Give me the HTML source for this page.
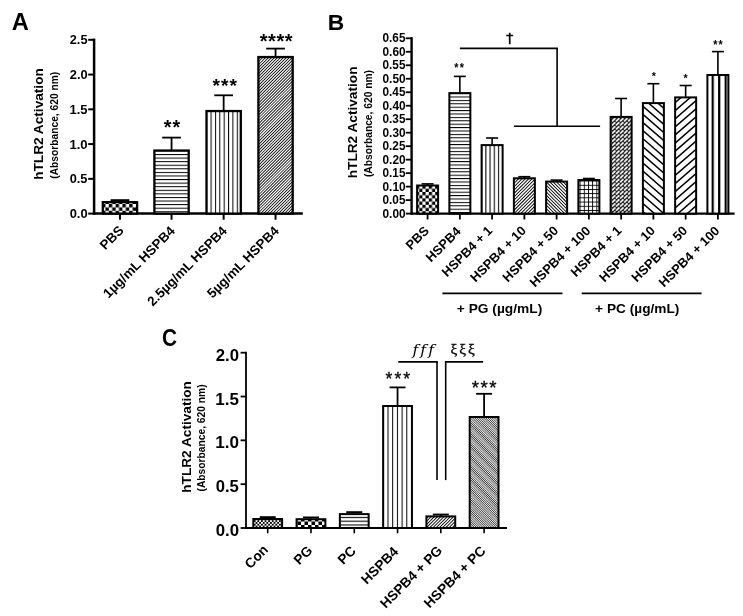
<!DOCTYPE html><html><head><meta charset="utf-8"><style>html,body{margin:0;padding:0;background:#fff;}svg{display:block}</style></head><body>
<svg width="743" height="616" viewBox="0 0 743 616">
<rect width="743" height="616" fill="#fff"/>
<defs>
<pattern id="chkA" patternUnits="userSpaceOnUse" width="6.8" height="6.8"><rect width="6.8" height="6.8" fill="#fff"/><rect width="3.4" height="3.4" fill="#000"/><rect x="3.4" y="3.4" width="3.4" height="3.4" fill="#000"/></pattern>
<pattern id="hlA" patternUnits="userSpaceOnUse" y="0.06" width="10" height="3.58"><rect width="10" height="3.58" fill="#fff"/><rect y="0" width="10" height="1.0" fill="#000"/></pattern>
<pattern id="vlA" patternUnits="userSpaceOnUse" x="0.8" width="4.37" height="10"><rect width="4.37" height="10" fill="#fff"/><rect x="0" width="1.0" height="10" fill="#000"/></pattern>
<pattern id="dfA" patternUnits="userSpaceOnUse" width="2.1" height="2.1" patternTransform="rotate(45)"><rect width="2.1" height="2.1" fill="#fff"/><rect x="0" width="0.9" height="2.1" fill="#000"/></pattern>
<pattern id="chkB" patternUnits="userSpaceOnUse" width="6.4" height="6.4"><rect width="6.4" height="6.4" fill="#fff"/><rect width="3.2" height="3.2" fill="#000"/><rect x="3.2" y="3.2" width="3.2" height="3.2" fill="#000"/></pattern>
<pattern id="hlB" patternUnits="userSpaceOnUse" y="1.3" width="10" height="3.4"><rect width="10" height="3.4" fill="#fff"/><rect y="0" width="10" height="1.0" fill="#000"/></pattern>
<pattern id="vlB" patternUnits="userSpaceOnUse" x="1.63" width="4.17" height="10"><rect width="4.17" height="10" fill="#fff"/><rect x="0" width="1.1" height="10" fill="#000"/></pattern>
<pattern id="dfB" patternUnits="userSpaceOnUse" width="2.35" height="2.35" patternTransform="rotate(45)"><rect width="2.35" height="2.35" fill="#fff"/><rect x="0" width="1.0" height="2.35" fill="#000"/></pattern>
<pattern id="dbB" patternUnits="userSpaceOnUse" width="2.35" height="2.35" patternTransform="rotate(-45)"><rect width="2.35" height="2.35" fill="#fff"/><rect x="0" width="1.0" height="2.35" fill="#000"/></pattern>
<pattern id="grB" patternUnits="userSpaceOnUse" width="4.2" height="4.2"><rect width="4.2" height="4.2" fill="#fff"/><rect width="0.9" height="4.2" fill="#000"/><rect width="4.2" height="0.9" fill="#000"/></pattern>
<pattern id="xhB" patternUnits="userSpaceOnUse" x="2.6" width="4.06" height="4.06"><rect width="4.06" height="4.06" fill="#1a1a1a"/><line x1="0.3" y1="3.76" x2="3.76" y2="0.3" stroke="#fff" stroke-width="1.6"/></pattern>
<pattern id="dbB2" patternUnits="userSpaceOnUse" width="6.1" height="6.1" patternTransform="rotate(-49)"><rect width="6.1" height="6.1" fill="#fff"/><rect x="0" width="1.5" height="6.1" fill="#000"/></pattern>
<pattern id="dfB2" patternUnits="userSpaceOnUse" width="6.1" height="6.1" patternTransform="rotate(49)"><rect width="6.1" height="6.1" fill="#fff"/><rect x="0" width="1.5" height="6.1" fill="#000"/></pattern>
<pattern id="vlB2" patternUnits="userSpaceOnUse" x="3.1" width="6.5" height="10"><rect width="6.5" height="10" fill="#fff"/><rect x="0" width="2.2" height="10" fill="#000"/></pattern>
<pattern id="xhC" patternUnits="userSpaceOnUse" width="3.6" height="3.6"><rect width="3.6" height="3.6" fill="#fff"/><rect width="1.8" height="1.8" fill="#000"/><rect x="1.8" y="1.8" width="1.8" height="1.8" fill="#000"/></pattern>
<pattern id="chkC" patternUnits="userSpaceOnUse" width="7.0" height="7.0"><rect width="7.0" height="7.0" fill="#fff"/><rect width="3.5" height="3.5" fill="#000"/><rect x="3.5" y="3.5" width="3.5" height="3.5" fill="#000"/></pattern>
<pattern id="hlC" patternUnits="userSpaceOnUse" y="0.05" width="10" height="3.8"><rect width="10" height="3.8" fill="#fff"/><rect y="0" width="10" height="1.1" fill="#000"/></pattern>
<pattern id="vlC" patternUnits="userSpaceOnUse" x="2.1" width="4.7" height="10"><rect width="4.7" height="10" fill="#fff"/><rect x="0" width="1.0" height="10" fill="#000"/></pattern>
<pattern id="dfC" patternUnits="userSpaceOnUse" width="2.26" height="2.26" patternTransform="rotate(45)"><rect width="2.26" height="2.26" fill="#fff"/><rect x="0" width="1.0" height="2.26" fill="#000"/></pattern>
<pattern id="dbC" patternUnits="userSpaceOnUse" width="1.56" height="1.56" patternTransform="rotate(-45)"><rect width="1.56" height="1.56" fill="#fff"/><rect x="0" width="0.72" height="1.56" fill="#000"/></pattern>
</defs>
<text transform="translate(11.87,29.76)" font-size="23.65" font-family='"Liberation Sans", Arial, sans-serif' font-weight="bold" font-style="normal">A</text>
<line x1="94.10" y1="38.60" x2="94.10" y2="214.80" stroke="#000" stroke-width="2.5"/>
<line x1="92.90" y1="213.60" x2="302.80" y2="213.60" stroke="#000" stroke-width="2.5"/>
<line x1="88.20" y1="213.60" x2="94.10" y2="213.60" stroke="#000" stroke-width="2.0"/>
<text transform="translate(69.68,218.25) scale(0.9592,1)" font-size="13.48" font-family='"Liberation Sans", Arial, sans-serif' font-weight="bold" font-style="normal">0.0</text>
<line x1="88.20" y1="178.84" x2="94.10" y2="178.84" stroke="#000" stroke-width="2.0"/>
<text transform="translate(69.69,183.49) scale(0.9501,1)" font-size="13.48" font-family='"Liberation Sans", Arial, sans-serif' font-weight="bold" font-style="normal">0.5</text>
<line x1="88.20" y1="144.08" x2="94.10" y2="144.08" stroke="#000" stroke-width="2.0"/>
<text transform="translate(69.38,148.73) scale(0.9760,1)" font-size="13.48" font-family='"Liberation Sans", Arial, sans-serif' font-weight="bold" font-style="normal">1.0</text>
<line x1="88.20" y1="109.32" x2="94.10" y2="109.32" stroke="#000" stroke-width="2.0"/>
<text transform="translate(69.39,113.97) scale(0.9529,1)" font-size="13.67" font-family='"Liberation Sans", Arial, sans-serif' font-weight="bold" font-style="normal">1.5</text>
<line x1="88.20" y1="74.56" x2="94.10" y2="74.56" stroke="#000" stroke-width="2.0"/>
<text transform="translate(69.75,79.21) scale(0.9555,1)" font-size="13.48" font-family='"Liberation Sans", Arial, sans-serif' font-weight="bold" font-style="normal">2.0</text>
<line x1="88.20" y1="39.80" x2="94.10" y2="39.80" stroke="#000" stroke-width="2.0"/>
<text transform="translate(69.75,44.45) scale(0.9465,1)" font-size="13.48" font-family='"Liberation Sans", Arial, sans-serif' font-weight="bold" font-style="normal">2.5</text>
<text transform="translate(43.00,179.86) rotate(-90) scale(1.0414,1)" font-size="13.11" font-family='"Liberation Sans", Arial, sans-serif' font-weight="bold" font-style="normal">hTLR2 Activation</text>
<text transform="translate(57.66,178.71) rotate(-90) scale(0.9824,1)" font-size="10.43" font-family='"Liberation Sans", Arial, sans-serif' font-weight="bold" font-style="normal">(Absorbance, 620 nm)</text>
<line x1="119.95" y1="200.10" x2="119.95" y2="201.50" stroke="#000" stroke-width="1.8"/>
<line x1="110.60" y1="200.10" x2="129.30" y2="200.10" stroke="#000" stroke-width="1.8"/>
<rect x="102.80" y="202.15" width="34.30" height="11.45" fill="url(#chkA)" stroke="#000" stroke-width="2.3"/>
<line x1="119.95" y1="213.60" x2="119.95" y2="219.70" stroke="#000" stroke-width="2.0"/>
<line x1="171.55" y1="137.60" x2="171.55" y2="149.90" stroke="#000" stroke-width="1.8"/>
<line x1="162.20" y1="137.60" x2="180.90" y2="137.60" stroke="#000" stroke-width="1.8"/>
<rect x="154.40" y="150.55" width="34.30" height="63.05" fill="url(#hlA)" stroke="#000" stroke-width="2.3"/>
<line x1="171.55" y1="213.60" x2="171.55" y2="219.70" stroke="#000" stroke-width="2.0"/>
<line x1="223.65" y1="95.30" x2="223.65" y2="110.40" stroke="#000" stroke-width="1.8"/>
<line x1="214.30" y1="95.30" x2="233.00" y2="95.30" stroke="#000" stroke-width="1.8"/>
<rect x="206.50" y="111.05" width="34.30" height="102.55" fill="url(#vlA)" stroke="#000" stroke-width="2.3"/>
<line x1="223.65" y1="213.60" x2="223.65" y2="219.70" stroke="#000" stroke-width="2.0"/>
<line x1="275.55" y1="48.60" x2="275.55" y2="56.40" stroke="#000" stroke-width="1.8"/>
<line x1="266.20" y1="48.60" x2="284.90" y2="48.60" stroke="#000" stroke-width="1.8"/>
<clipPath id="c1"><rect x="258.40" y="57.05" width="34.30" height="156.55"/></clipPath>
<g clip-path="url(#c1)"><rect x="258.40" y="57.05" width="34.30" height="156.55" fill="#fff"/><path d="M256.40 54.40L294.70 16.10L294.70 17.29L256.40 55.59ZM256.40 57.36L294.70 19.06L294.70 20.25L256.40 58.55ZM256.40 60.32L294.70 22.02L294.70 23.21L256.40 61.51ZM256.40 63.28L294.70 24.98L294.70 26.17L256.40 64.47ZM256.40 66.24L294.70 27.94L294.70 29.13L256.40 67.43ZM256.40 69.20L294.70 30.90L294.70 32.09L256.40 70.39ZM256.40 72.16L294.70 33.86L294.70 35.05L256.40 73.35ZM256.40 75.12L294.70 36.82L294.70 38.01L256.40 76.31ZM256.40 78.08L294.70 39.78L294.70 40.97L256.40 79.27ZM256.40 81.04L294.70 42.74L294.70 43.93L256.40 82.23ZM256.40 84.00L294.70 45.70L294.70 46.89L256.40 85.19ZM256.40 86.96L294.70 48.66L294.70 49.85L256.40 88.15ZM256.40 89.92L294.70 51.62L294.70 52.81L256.40 91.11ZM256.40 92.88L294.70 54.58L294.70 55.77L256.40 94.07ZM256.40 95.84L294.70 57.54L294.70 58.73L256.40 97.03ZM256.40 98.80L294.70 60.50L294.70 61.69L256.40 99.99ZM256.40 101.76L294.70 63.46L294.70 64.65L256.40 102.95ZM256.40 104.72L294.70 66.42L294.70 67.61L256.40 105.91ZM256.40 107.68L294.70 69.38L294.70 70.57L256.40 108.87ZM256.40 110.64L294.70 72.34L294.70 73.53L256.40 111.83ZM256.40 113.60L294.70 75.30L294.70 76.49L256.40 114.79ZM256.40 116.56L294.70 78.26L294.70 79.45L256.40 117.75ZM256.40 119.52L294.70 81.22L294.70 82.41L256.40 120.71ZM256.40 122.48L294.70 84.18L294.70 85.37L256.40 123.67ZM256.40 125.44L294.70 87.14L294.70 88.33L256.40 126.63ZM256.40 128.40L294.70 90.10L294.70 91.29L256.40 129.59ZM256.40 131.36L294.70 93.06L294.70 94.25L256.40 132.55ZM256.40 134.32L294.70 96.02L294.70 97.21L256.40 135.51ZM256.40 137.28L294.70 98.98L294.70 100.17L256.40 138.47ZM256.40 140.24L294.70 101.94L294.70 103.13L256.40 141.43ZM256.40 143.20L294.70 104.90L294.70 106.09L256.40 144.39ZM256.40 146.16L294.70 107.86L294.70 109.05L256.40 147.35ZM256.40 149.12L294.70 110.82L294.70 112.01L256.40 150.31ZM256.40 152.08L294.70 113.78L294.70 114.97L256.40 153.27ZM256.40 155.04L294.70 116.74L294.70 117.93L256.40 156.23ZM256.40 158.00L294.70 119.70L294.70 120.89L256.40 159.19ZM256.40 160.96L294.70 122.66L294.70 123.85L256.40 162.15ZM256.40 163.92L294.70 125.62L294.70 126.81L256.40 165.11ZM256.40 166.88L294.70 128.58L294.70 129.77L256.40 168.07ZM256.40 169.84L294.70 131.54L294.70 132.73L256.40 171.03ZM256.40 172.80L294.70 134.50L294.70 135.69L256.40 173.99ZM256.40 175.76L294.70 137.46L294.70 138.65L256.40 176.95ZM256.40 178.72L294.70 140.42L294.70 141.61L256.40 179.91ZM256.40 181.68L294.70 143.38L294.70 144.57L256.40 182.87ZM256.40 184.64L294.70 146.34L294.70 147.53L256.40 185.83ZM256.40 187.60L294.70 149.30L294.70 150.49L256.40 188.79ZM256.40 190.56L294.70 152.26L294.70 153.45L256.40 191.75ZM256.40 193.52L294.70 155.22L294.70 156.41L256.40 194.71ZM256.40 196.48L294.70 158.18L294.70 159.37L256.40 197.67ZM256.40 199.44L294.70 161.14L294.70 162.33L256.40 200.63ZM256.40 202.40L294.70 164.10L294.70 165.29L256.40 203.59ZM256.40 205.36L294.70 167.06L294.70 168.25L256.40 206.55ZM256.40 208.32L294.70 170.02L294.70 171.21L256.40 209.51ZM256.40 211.28L294.70 172.98L294.70 174.17L256.40 212.47ZM256.40 214.24L294.70 175.94L294.70 177.13L256.40 215.43ZM256.40 217.20L294.70 178.90L294.70 180.09L256.40 218.39ZM256.40 220.16L294.70 181.86L294.70 183.05L256.40 221.35ZM256.40 223.12L294.70 184.82L294.70 186.01L256.40 224.31ZM256.40 226.08L294.70 187.78L294.70 188.97L256.40 227.27ZM256.40 229.04L294.70 190.74L294.70 191.93L256.40 230.23ZM256.40 232.00L294.70 193.70L294.70 194.89L256.40 233.19ZM256.40 234.96L294.70 196.66L294.70 197.85L256.40 236.15ZM256.40 237.92L294.70 199.62L294.70 200.81L256.40 239.11ZM256.40 240.88L294.70 202.58L294.70 203.77L256.40 242.07ZM256.40 243.84L294.70 205.54L294.70 206.73L256.40 245.03ZM256.40 246.80L294.70 208.50L294.70 209.69L256.40 247.99ZM256.40 249.76L294.70 211.46L294.70 212.65L256.40 250.95ZM256.40 252.72L294.70 214.42L294.70 215.61L256.40 253.91ZM256.40 255.68L294.70 217.38L294.70 218.57L256.40 256.87Z" fill="#000"/></g>
<rect x="258.40" y="57.05" width="34.30" height="156.55" fill="none" stroke="#000" stroke-width="2.3"/>
<line x1="275.55" y1="213.60" x2="275.55" y2="219.70" stroke="#000" stroke-width="2.0"/>
<text x="0" y="0" transform="translate(163.85,133.56) scale(1.000,1)" font-size="19.73" font-family='"Liberation Sans", Arial, sans-serif' font-weight="bold" font-style="normal" letter-spacing="0.97">**</text>
<text x="0" y="0" transform="translate(212.55,92.39) scale(1.000,1)" font-size="19.19" font-family='"Liberation Sans", Arial, sans-serif' font-weight="bold" font-style="normal" letter-spacing="1.06">***</text>
<text x="0" y="0" transform="translate(259.75,48.15) scale(1.000,1)" font-size="20.00" font-family='"Liberation Sans", Arial, sans-serif' font-weight="bold" font-style="normal" letter-spacing="0.57">****</text>
<text transform="translate(105.24,250.52) rotate(-45)" font-size="13.33" font-family='"Liberation Sans", Arial, sans-serif' font-weight="bold">PBS</text>
<text transform="translate(108.62,298.84) rotate(-45)" font-size="13.33" font-family='"Liberation Sans", Arial, sans-serif' font-weight="bold">1µg/mL HSPB4</text>
<text transform="translate(152.87,306.69) rotate(-45)" font-size="13.33" font-family='"Liberation Sans", Arial, sans-serif' font-weight="bold">2.5µg/mL HSPB4</text>
<text transform="translate(212.62,298.84) rotate(-45)" font-size="13.33" font-family='"Liberation Sans", Arial, sans-serif' font-weight="bold">5µg/mL HSPB4</text>
<text transform="translate(327.75,30.06)" font-size="22.77" font-family='"Liberation Sans", Arial, sans-serif' font-weight="bold" font-style="normal">B</text>
<line x1="411.60" y1="37.10" x2="411.60" y2="214.70" stroke="#000" stroke-width="2.4"/>
<line x1="410.50" y1="213.60" x2="734.60" y2="213.60" stroke="#000" stroke-width="2.2"/>
<line x1="405.80" y1="213.60" x2="411.60" y2="213.60" stroke="#000" stroke-width="1.8"/>
<text transform="translate(382.53,217.76) scale(0.9842,1)" font-size="12.06" font-family='"Liberation Sans", Arial, sans-serif' font-weight="bold" font-style="normal">0.00</text>
<line x1="405.80" y1="200.12" x2="411.60" y2="200.12" stroke="#000" stroke-width="1.8"/>
<text transform="translate(382.53,204.27) scale(0.9776,1)" font-size="12.06" font-family='"Liberation Sans", Arial, sans-serif' font-weight="bold" font-style="normal">0.05</text>
<line x1="405.80" y1="186.63" x2="411.60" y2="186.63" stroke="#000" stroke-width="1.8"/>
<text transform="translate(382.53,190.79) scale(0.9842,1)" font-size="12.06" font-family='"Liberation Sans", Arial, sans-serif' font-weight="bold" font-style="normal">0.10</text>
<line x1="405.80" y1="173.15" x2="411.60" y2="173.15" stroke="#000" stroke-width="1.8"/>
<text transform="translate(382.53,177.31) scale(0.9776,1)" font-size="12.06" font-family='"Liberation Sans", Arial, sans-serif' font-weight="bold" font-style="normal">0.15</text>
<line x1="405.80" y1="159.66" x2="411.60" y2="159.66" stroke="#000" stroke-width="1.8"/>
<text transform="translate(382.53,163.82) scale(0.9842,1)" font-size="12.06" font-family='"Liberation Sans", Arial, sans-serif' font-weight="bold" font-style="normal">0.20</text>
<line x1="405.80" y1="146.18" x2="411.60" y2="146.18" stroke="#000" stroke-width="1.8"/>
<text transform="translate(382.53,150.34) scale(0.9776,1)" font-size="12.06" font-family='"Liberation Sans", Arial, sans-serif' font-weight="bold" font-style="normal">0.25</text>
<line x1="405.80" y1="132.69" x2="411.60" y2="132.69" stroke="#000" stroke-width="1.8"/>
<text transform="translate(382.53,136.82) scale(0.9877,1)" font-size="12.01" font-family='"Liberation Sans", Arial, sans-serif' font-weight="bold" font-style="normal">0.30</text>
<line x1="405.80" y1="119.21" x2="411.60" y2="119.21" stroke="#000" stroke-width="1.8"/>
<text transform="translate(382.53,123.34) scale(0.9811,1)" font-size="12.01" font-family='"Liberation Sans", Arial, sans-serif' font-weight="bold" font-style="normal">0.35</text>
<line x1="405.80" y1="105.72" x2="411.60" y2="105.72" stroke="#000" stroke-width="1.8"/>
<text transform="translate(382.53,109.88) scale(0.9842,1)" font-size="12.06" font-family='"Liberation Sans", Arial, sans-serif' font-weight="bold" font-style="normal">0.40</text>
<line x1="405.80" y1="92.24" x2="411.60" y2="92.24" stroke="#000" stroke-width="1.8"/>
<text transform="translate(382.53,96.40) scale(0.9776,1)" font-size="12.06" font-family='"Liberation Sans", Arial, sans-serif' font-weight="bold" font-style="normal">0.45</text>
<line x1="405.80" y1="78.75" x2="411.60" y2="78.75" stroke="#000" stroke-width="1.8"/>
<text transform="translate(382.53,82.91) scale(0.9842,1)" font-size="12.06" font-family='"Liberation Sans", Arial, sans-serif' font-weight="bold" font-style="normal">0.50</text>
<line x1="405.80" y1="65.27" x2="411.60" y2="65.27" stroke="#000" stroke-width="1.8"/>
<text transform="translate(382.53,69.43) scale(0.9776,1)" font-size="12.06" font-family='"Liberation Sans", Arial, sans-serif' font-weight="bold" font-style="normal">0.55</text>
<line x1="405.80" y1="51.78" x2="411.60" y2="51.78" stroke="#000" stroke-width="1.8"/>
<text transform="translate(382.53,55.94) scale(0.9842,1)" font-size="12.06" font-family='"Liberation Sans", Arial, sans-serif' font-weight="bold" font-style="normal">0.60</text>
<line x1="405.80" y1="38.30" x2="411.60" y2="38.30" stroke="#000" stroke-width="1.8"/>
<text transform="translate(382.53,42.46) scale(0.9776,1)" font-size="12.06" font-family='"Liberation Sans", Arial, sans-serif' font-weight="bold" font-style="normal">0.65</text>
<text transform="translate(356.90,178.26) rotate(-90) scale(1.0325,1)" font-size="13.24" font-family='"Liberation Sans", Arial, sans-serif' font-weight="bold" font-style="normal">hTLR2 Activation</text>
<text transform="translate(371.64,177.11) rotate(-90) scale(0.9742,1)" font-size="10.54" font-family='"Liberation Sans", Arial, sans-serif' font-weight="bold" font-style="normal">(Absorbance, 620 nm)</text>
<line x1="427.60" y1="183.90" x2="427.60" y2="185.00" stroke="#000" stroke-width="1.6"/>
<line x1="421.60" y1="183.90" x2="433.60" y2="183.90" stroke="#000" stroke-width="1.6"/>
<rect x="417.10" y="185.50" width="21.00" height="28.10" fill="url(#chkB)" stroke="#000" stroke-width="2.0"/>
<line x1="427.60" y1="213.60" x2="427.60" y2="219.50" stroke="#000" stroke-width="1.8"/>
<line x1="459.86" y1="76.40" x2="459.86" y2="92.60" stroke="#000" stroke-width="1.6"/>
<line x1="453.86" y1="76.40" x2="465.86" y2="76.40" stroke="#000" stroke-width="1.6"/>
<rect x="449.36" y="93.10" width="21.00" height="120.50" fill="url(#hlB)" stroke="#000" stroke-width="2.0"/>
<line x1="459.86" y1="213.60" x2="459.86" y2="219.50" stroke="#000" stroke-width="1.8"/>
<text x="0" y="0" transform="translate(454.27,72.00) scale(0.809,1)" font-size="13.24" font-family='"Liberation Sans", Arial, sans-serif' font-weight="bold" font-style="normal" letter-spacing="1.52">**</text>
<line x1="492.11" y1="138.00" x2="492.11" y2="144.60" stroke="#000" stroke-width="1.6"/>
<line x1="486.11" y1="138.00" x2="498.11" y2="138.00" stroke="#000" stroke-width="1.6"/>
<rect x="481.61" y="145.10" width="21.00" height="68.50" fill="url(#vlB)" stroke="#000" stroke-width="2.0"/>
<line x1="492.11" y1="213.60" x2="492.11" y2="219.50" stroke="#000" stroke-width="1.8"/>
<line x1="524.37" y1="176.70" x2="524.37" y2="177.80" stroke="#000" stroke-width="1.6"/>
<line x1="518.37" y1="176.70" x2="530.37" y2="176.70" stroke="#000" stroke-width="1.6"/>
<clipPath id="c2"><rect x="513.87" y="178.30" width="21.00" height="35.30"/></clipPath>
<g clip-path="url(#c2)"><rect x="513.87" y="178.30" width="21.00" height="35.30" fill="#fff"/><path d="M511.87 174.88L536.87 149.88L536.87 151.18L511.87 176.18ZM511.87 178.23L536.87 153.23L536.87 154.53L511.87 179.53ZM511.87 181.58L536.87 156.58L536.87 157.88L511.87 182.88ZM511.87 184.93L536.87 159.93L536.87 161.23L511.87 186.23ZM511.87 188.28L536.87 163.28L536.87 164.58L511.87 189.58ZM511.87 191.63L536.87 166.63L536.87 167.93L511.87 192.93ZM511.87 194.98L536.87 169.98L536.87 171.28L511.87 196.28ZM511.87 198.33L536.87 173.33L536.87 174.63L511.87 199.63ZM511.87 201.68L536.87 176.68L536.87 177.98L511.87 202.98ZM511.87 205.03L536.87 180.03L536.87 181.33L511.87 206.33ZM511.87 208.38L536.87 183.38L536.87 184.68L511.87 209.68ZM511.87 211.73L536.87 186.73L536.87 188.03L511.87 213.03ZM511.87 215.08L536.87 190.08L536.87 191.38L511.87 216.38ZM511.87 218.43L536.87 193.43L536.87 194.73L511.87 219.73ZM511.87 221.78L536.87 196.78L536.87 198.08L511.87 223.08ZM511.87 225.13L536.87 200.13L536.87 201.43L511.87 226.43ZM511.87 228.48L536.87 203.48L536.87 204.78L511.87 229.78ZM511.87 231.83L536.87 206.83L536.87 208.13L511.87 233.13ZM511.87 235.18L536.87 210.18L536.87 211.48L511.87 236.48ZM511.87 238.53L536.87 213.53L536.87 214.83L511.87 239.83ZM511.87 241.88L536.87 216.88L536.87 218.18L511.87 243.18Z" fill="#000"/></g>
<rect x="513.87" y="178.30" width="21.00" height="35.30" fill="none" stroke="#000" stroke-width="2.0"/>
<line x1="524.37" y1="213.60" x2="524.37" y2="219.50" stroke="#000" stroke-width="1.8"/>
<line x1="556.62" y1="180.10" x2="556.62" y2="181.10" stroke="#000" stroke-width="1.6"/>
<line x1="550.62" y1="180.10" x2="562.62" y2="180.10" stroke="#000" stroke-width="1.6"/>
<clipPath id="c3"><rect x="546.12" y="181.60" width="21.00" height="32.00"/></clipPath>
<g clip-path="url(#c3)"><rect x="546.12" y="181.60" width="21.00" height="32.00" fill="#fff"/><path d="M544.12 152.17L569.12 177.17L569.12 178.47L544.12 153.47ZM544.12 155.52L569.12 180.52L569.12 181.82L544.12 156.82ZM544.12 158.87L569.12 183.87L569.12 185.17L544.12 160.17ZM544.12 162.22L569.12 187.22L569.12 188.52L544.12 163.52ZM544.12 165.57L569.12 190.57L569.12 191.87L544.12 166.87ZM544.12 168.92L569.12 193.92L569.12 195.22L544.12 170.22ZM544.12 172.27L569.12 197.27L569.12 198.57L544.12 173.57ZM544.12 175.62L569.12 200.62L569.12 201.92L544.12 176.92ZM544.12 178.97L569.12 203.97L569.12 205.27L544.12 180.27ZM544.12 182.32L569.12 207.32L569.12 208.62L544.12 183.62ZM544.12 185.67L569.12 210.67L569.12 211.97L544.12 186.97ZM544.12 189.02L569.12 214.02L569.12 215.32L544.12 190.32ZM544.12 192.37L569.12 217.37L569.12 218.67L544.12 193.67ZM544.12 195.72L569.12 220.72L569.12 222.02L544.12 197.02ZM544.12 199.07L569.12 224.07L569.12 225.37L544.12 200.37ZM544.12 202.42L569.12 227.42L569.12 228.72L544.12 203.72ZM544.12 205.77L569.12 230.77L569.12 232.07L544.12 207.07ZM544.12 209.12L569.12 234.12L569.12 235.42L544.12 210.42ZM544.12 212.47L569.12 237.47L569.12 238.77L544.12 213.77ZM544.12 215.82L569.12 240.82L569.12 242.12L544.12 217.12Z" fill="#000"/></g>
<rect x="546.12" y="181.60" width="21.00" height="32.00" fill="none" stroke="#000" stroke-width="2.0"/>
<line x1="556.62" y1="213.60" x2="556.62" y2="219.50" stroke="#000" stroke-width="1.8"/>
<line x1="588.88" y1="178.50" x2="588.88" y2="179.50" stroke="#000" stroke-width="1.6"/>
<line x1="582.88" y1="178.50" x2="594.88" y2="178.50" stroke="#000" stroke-width="1.6"/>
<rect x="578.38" y="180.00" width="21.00" height="33.60" fill="url(#grB)" stroke="#000" stroke-width="2.0"/>
<line x1="588.88" y1="213.60" x2="588.88" y2="219.50" stroke="#000" stroke-width="1.8"/>
<line x1="621.13" y1="98.50" x2="621.13" y2="116.40" stroke="#000" stroke-width="1.6"/>
<line x1="615.13" y1="98.50" x2="627.13" y2="98.50" stroke="#000" stroke-width="1.6"/>
<rect x="610.63" y="116.90" width="21.00" height="96.70" fill="url(#xhB)" stroke="#000" stroke-width="2.0"/>
<line x1="621.13" y1="213.60" x2="621.13" y2="219.50" stroke="#000" stroke-width="1.8"/>
<line x1="653.39" y1="83.70" x2="653.39" y2="102.60" stroke="#000" stroke-width="1.6"/>
<line x1="647.39" y1="83.70" x2="659.39" y2="83.70" stroke="#000" stroke-width="1.6"/>
<clipPath id="c4"><rect x="642.89" y="103.10" width="21.00" height="110.50"/></clipPath>
<g clip-path="url(#c4)"><rect x="642.89" y="103.10" width="21.00" height="110.50" fill="#fff"/><path d="M640.89 71.12L665.89 92.85L665.89 94.84L640.89 73.10ZM640.89 79.22L665.89 100.95L665.89 102.94L640.89 81.20ZM640.89 87.32L665.89 109.05L665.89 111.04L640.89 89.30ZM640.89 95.42L665.89 117.15L665.89 119.14L640.89 97.40ZM640.89 103.52L665.89 125.25L665.89 127.24L640.89 105.50ZM640.89 111.62L665.89 133.35L665.89 135.34L640.89 113.60ZM640.89 119.72L665.89 141.45L665.89 143.44L640.89 121.70ZM640.89 127.82L665.89 149.55L665.89 151.54L640.89 129.80ZM640.89 135.92L665.89 157.65L665.89 159.64L640.89 137.90ZM640.89 144.02L665.89 165.75L665.89 167.74L640.89 146.00ZM640.89 152.12L665.89 173.85L665.89 175.84L640.89 154.10ZM640.89 160.22L665.89 181.95L665.89 183.94L640.89 162.20ZM640.89 168.32L665.89 190.05L665.89 192.04L640.89 170.30ZM640.89 176.42L665.89 198.15L665.89 200.14L640.89 178.40ZM640.89 184.52L665.89 206.25L665.89 208.24L640.89 186.50ZM640.89 192.62L665.89 214.35L665.89 216.34L640.89 194.60ZM640.89 200.72L665.89 222.45L665.89 224.44L640.89 202.70ZM640.89 208.82L665.89 230.55L665.89 232.54L640.89 210.80ZM640.89 216.92L665.89 238.65L665.89 240.64L640.89 218.90ZM640.89 225.02L665.89 246.75L665.89 248.74L640.89 227.00Z" fill="#000"/></g>
<rect x="642.89" y="103.10" width="21.00" height="110.50" fill="none" stroke="#000" stroke-width="2.0"/>
<line x1="653.39" y1="213.60" x2="653.39" y2="219.50" stroke="#000" stroke-width="1.8"/>
<text x="0" y="0" transform="translate(651.67,80.39) scale(0.922,1)" font-size="11.62" font-family='"Liberation Sans", Arial, sans-serif' font-weight="bold" font-style="normal">*</text>
<line x1="685.64" y1="85.50" x2="685.64" y2="96.90" stroke="#000" stroke-width="1.6"/>
<line x1="679.64" y1="85.50" x2="691.64" y2="85.50" stroke="#000" stroke-width="1.6"/>
<clipPath id="c5"><rect x="675.14" y="97.40" width="21.00" height="116.20"/></clipPath>
<g clip-path="url(#c5)"><rect x="675.14" y="97.40" width="21.00" height="116.20" fill="#fff"/><path d="M673.14 87.14L698.14 65.41L698.14 67.40L673.14 89.13ZM673.14 95.24L698.14 73.51L698.14 75.50L673.14 97.23ZM673.14 103.34L698.14 81.61L698.14 83.60L673.14 105.33ZM673.14 111.44L698.14 89.71L698.14 91.70L673.14 113.43ZM673.14 119.54L698.14 97.81L698.14 99.80L673.14 121.53ZM673.14 127.64L698.14 105.91L698.14 107.90L673.14 129.63ZM673.14 135.74L698.14 114.01L698.14 116.00L673.14 137.73ZM673.14 143.84L698.14 122.11L698.14 124.10L673.14 145.83ZM673.14 151.94L698.14 130.21L698.14 132.20L673.14 153.93ZM673.14 160.04L698.14 138.31L698.14 140.30L673.14 162.03ZM673.14 168.14L698.14 146.41L698.14 148.40L673.14 170.13ZM673.14 176.24L698.14 154.51L698.14 156.50L673.14 178.23ZM673.14 184.34L698.14 162.61L698.14 164.60L673.14 186.33ZM673.14 192.44L698.14 170.71L698.14 172.70L673.14 194.43ZM673.14 200.54L698.14 178.81L698.14 180.80L673.14 202.53ZM673.14 208.64L698.14 186.91L698.14 188.90L673.14 210.63ZM673.14 216.74L698.14 195.01L698.14 197.00L673.14 218.73ZM673.14 224.84L698.14 203.11L698.14 205.10L673.14 226.83ZM673.14 232.94L698.14 211.21L698.14 213.20L673.14 234.93ZM673.14 241.04L698.14 219.31L698.14 221.30L673.14 243.03ZM673.14 249.14L698.14 227.41L698.14 229.40L673.14 251.13Z" fill="#000"/></g>
<rect x="675.14" y="97.40" width="21.00" height="116.20" fill="none" stroke="#000" stroke-width="2.0"/>
<line x1="685.64" y1="213.60" x2="685.64" y2="219.50" stroke="#000" stroke-width="1.8"/>
<text x="0" y="0" transform="translate(683.47,81.50) scale(0.944,1)" font-size="11.35" font-family='"Liberation Sans", Arial, sans-serif' font-weight="bold" font-style="normal">*</text>
<line x1="717.90" y1="51.60" x2="717.90" y2="74.50" stroke="#000" stroke-width="1.6"/>
<line x1="711.90" y1="51.60" x2="723.90" y2="51.60" stroke="#000" stroke-width="1.6"/>
<rect x="707.40" y="75.00" width="21.00" height="138.60" fill="url(#vlB2)" stroke="#000" stroke-width="2.0"/>
<line x1="717.90" y1="213.60" x2="717.90" y2="219.50" stroke="#000" stroke-width="1.8"/>
<text x="0" y="0" transform="translate(713.17,49.12) scale(0.826,1)" font-size="12.97" font-family='"Liberation Sans", Arial, sans-serif' font-weight="bold" font-style="normal" letter-spacing="1.37">**</text>
<text transform="translate(410.98,250.46) rotate(-45)" font-size="12.97" font-family='"Liberation Sans", Arial, sans-serif' font-weight="bold">PBS</text>
<text transform="translate(431.02,262.76) rotate(-45)" font-size="12.97" font-family='"Liberation Sans", Arial, sans-serif' font-weight="bold">HSPB4</text>
<text transform="translate(447.09,277.50) rotate(-45)" font-size="12.97" font-family='"Liberation Sans", Arial, sans-serif' font-weight="bold">HSPB4 + 1</text>
<text transform="translate(475.59,282.75) rotate(-45)" font-size="12.97" font-family='"Liberation Sans", Arial, sans-serif' font-weight="bold">HSPB4 + 10</text>
<text transform="translate(507.84,282.75) rotate(-45)" font-size="12.97" font-family='"Liberation Sans", Arial, sans-serif' font-weight="bold">HSPB4 + 50</text>
<text transform="translate(534.99,287.86) rotate(-45)" font-size="12.97" font-family='"Liberation Sans", Arial, sans-serif' font-weight="bold">HSPB4 + 100</text>
<text transform="translate(576.11,277.50) rotate(-45)" font-size="12.97" font-family='"Liberation Sans", Arial, sans-serif' font-weight="bold">HSPB4 + 1</text>
<text transform="translate(604.61,282.75) rotate(-45)" font-size="12.97" font-family='"Liberation Sans", Arial, sans-serif' font-weight="bold">HSPB4 + 10</text>
<text transform="translate(636.86,282.75) rotate(-45)" font-size="12.97" font-family='"Liberation Sans", Arial, sans-serif' font-weight="bold">HSPB4 + 50</text>
<text transform="translate(664.01,287.86) rotate(-45)" font-size="12.97" font-family='"Liberation Sans", Arial, sans-serif' font-weight="bold">HSPB4 + 100</text>
<line x1="459.90" y1="48.40" x2="557.90" y2="48.40" stroke="#000" stroke-width="1.6"/>
<line x1="557.10" y1="48.40" x2="557.10" y2="126.30" stroke="#000" stroke-width="1.6"/>
<line x1="513.90" y1="126.30" x2="600.10" y2="126.30" stroke="#000" stroke-width="1.6"/>
<text transform="translate(505.90,42.53) scale(1.0692,1)" font-size="13.74" font-family='"DejaVu Sans", sans-serif' font-weight="normal" font-style="normal" stroke="#000" stroke-width="0.35">†</text>
<line x1="442.40" y1="293.40" x2="562.40" y2="293.40" stroke="#000" stroke-width="1.8"/>
<line x1="581.70" y1="293.40" x2="701.60" y2="293.40" stroke="#000" stroke-width="1.8"/>
<text transform="translate(456.82,313.01) scale(1.0362,1)" font-size="13.26" font-family='"Liberation Sans", Arial, sans-serif' font-weight="bold" font-style="normal">+ PG (µg/mL)</text>
<text transform="translate(595.12,313.01) scale(1.0319,1)" font-size="13.26" font-family='"Liberation Sans", Arial, sans-serif' font-weight="bold" font-style="normal">+ PC (µg/mL)</text>
<text transform="translate(161.97,345.83) scale(0.8960,1)" font-size="23.26" font-family='"Liberation Sans", Arial, sans-serif' font-weight="bold" font-style="normal">C</text>
<line x1="246.00" y1="351.80" x2="246.00" y2="528.90" stroke="#000" stroke-width="1.8"/>
<line x1="245.10" y1="528.00" x2="507.00" y2="528.00" stroke="#000" stroke-width="1.8"/>
<line x1="240.60" y1="528.00" x2="246.00" y2="528.00" stroke="#000" stroke-width="1.8"/>
<text transform="translate(215.73,536.07) scale(0.9885,1)" font-size="17.02" font-family='"Liberation Sans", Arial, sans-serif' font-weight="bold" font-style="normal">0.0</text>
<line x1="240.60" y1="484.18" x2="246.00" y2="484.18" stroke="#000" stroke-width="1.8"/>
<text transform="translate(215.73,492.25) scale(0.9792,1)" font-size="17.02" font-family='"Liberation Sans", Arial, sans-serif' font-weight="bold" font-style="normal">0.5</text>
<line x1="240.60" y1="440.35" x2="246.00" y2="440.35" stroke="#000" stroke-width="1.8"/>
<text transform="translate(215.33,448.42) scale(1.0058,1)" font-size="17.02" font-family='"Liberation Sans", Arial, sans-serif' font-weight="bold" font-style="normal">1.0</text>
<line x1="240.60" y1="396.52" x2="246.00" y2="396.52" stroke="#000" stroke-width="1.8"/>
<text transform="translate(215.34,404.60) scale(0.9820,1)" font-size="17.27" font-family='"Liberation Sans", Arial, sans-serif' font-weight="bold" font-style="normal">1.5</text>
<line x1="240.60" y1="352.70" x2="246.00" y2="352.70" stroke="#000" stroke-width="1.8"/>
<text transform="translate(215.81,360.77) scale(0.9848,1)" font-size="17.02" font-family='"Liberation Sans", Arial, sans-serif' font-weight="bold" font-style="normal">2.0</text>
<text transform="translate(190.80,492.76) rotate(-90) scale(1.0306,1)" font-size="13.24" font-family='"Liberation Sans", Arial, sans-serif' font-weight="bold" font-style="normal">hTLR2 Activation</text>
<text transform="translate(205.41,491.51) rotate(-90) scale(1.0040,1)" font-size="10.22" font-family='"Liberation Sans", Arial, sans-serif' font-weight="bold" font-style="normal">(Absorbance, 620 nm)</text>
<line x1="267.70" y1="517.10" x2="267.70" y2="518.50" stroke="#000" stroke-width="1.8"/>
<line x1="259.70" y1="517.10" x2="275.70" y2="517.10" stroke="#000" stroke-width="1.8"/>
<rect x="253.30" y="519.00" width="28.80" height="9.00" fill="url(#xhC)" stroke="#000" stroke-width="2.0"/>
<line x1="267.70" y1="528.00" x2="267.70" y2="533.30" stroke="#000" stroke-width="1.6"/>
<line x1="310.98" y1="517.40" x2="310.98" y2="518.70" stroke="#000" stroke-width="1.8"/>
<line x1="302.98" y1="517.40" x2="318.98" y2="517.40" stroke="#000" stroke-width="1.8"/>
<rect x="296.58" y="519.20" width="28.80" height="8.80" fill="url(#chkC)" stroke="#000" stroke-width="2.0"/>
<line x1="310.98" y1="528.00" x2="310.98" y2="533.30" stroke="#000" stroke-width="1.6"/>
<line x1="354.26" y1="512.10" x2="354.26" y2="513.60" stroke="#000" stroke-width="1.8"/>
<line x1="346.26" y1="512.10" x2="362.26" y2="512.10" stroke="#000" stroke-width="1.8"/>
<rect x="339.86" y="514.10" width="28.80" height="13.90" fill="url(#hlC)" stroke="#000" stroke-width="2.0"/>
<line x1="354.26" y1="528.00" x2="354.26" y2="533.30" stroke="#000" stroke-width="1.6"/>
<line x1="397.54" y1="387.40" x2="397.54" y2="405.50" stroke="#000" stroke-width="1.8"/>
<line x1="389.54" y1="387.40" x2="405.54" y2="387.40" stroke="#000" stroke-width="1.8"/>
<rect x="383.14" y="406.00" width="28.80" height="122.00" fill="url(#vlC)" stroke="#000" stroke-width="2.0"/>
<line x1="397.54" y1="528.00" x2="397.54" y2="533.30" stroke="#000" stroke-width="1.6"/>
<text x="0" y="0" transform="translate(385.59,385.37) scale(1.000,1)" font-size="17.55" font-family='"Liberation Sans", Arial, sans-serif' font-weight="normal" font-style="normal" letter-spacing="2.07" stroke="#000" stroke-width="0.3">***</text>
<line x1="440.82" y1="514.50" x2="440.82" y2="515.90" stroke="#000" stroke-width="1.8"/>
<line x1="432.82" y1="514.50" x2="448.82" y2="514.50" stroke="#000" stroke-width="1.8"/>
<clipPath id="c6"><rect x="426.42" y="516.40" width="28.80" height="11.60"/></clipPath>
<g clip-path="url(#c6)"><rect x="426.42" y="516.40" width="28.80" height="11.60" fill="#fff"/><path d="M424.42 513.18L457.22 480.38L457.22 481.65L424.42 514.45ZM424.42 516.38L457.22 483.58L457.22 484.85L424.42 517.65ZM424.42 519.58L457.22 486.78L457.22 488.05L424.42 520.85ZM424.42 522.78L457.22 489.98L457.22 491.25L424.42 524.05ZM424.42 525.98L457.22 493.18L457.22 494.45L424.42 527.25ZM424.42 529.18L457.22 496.38L457.22 497.65L424.42 530.45ZM424.42 532.38L457.22 499.58L457.22 500.85L424.42 533.65ZM424.42 535.58L457.22 502.78L457.22 504.05L424.42 536.85ZM424.42 538.78L457.22 505.98L457.22 507.25L424.42 540.05ZM424.42 541.98L457.22 509.18L457.22 510.45L424.42 543.25ZM424.42 545.18L457.22 512.38L457.22 513.65L424.42 546.45ZM424.42 548.38L457.22 515.58L457.22 516.85L424.42 549.65ZM424.42 551.58L457.22 518.78L457.22 520.05L424.42 552.85ZM424.42 554.78L457.22 521.98L457.22 523.25L424.42 556.05ZM424.42 557.98L457.22 525.18L457.22 526.45L424.42 559.25ZM424.42 561.18L457.22 528.38L457.22 529.65L424.42 562.45ZM424.42 564.38L457.22 531.58L457.22 532.85L424.42 565.65Z" fill="#000"/></g>
<rect x="426.42" y="516.40" width="28.80" height="11.60" fill="none" stroke="#000" stroke-width="2.0"/>
<line x1="440.82" y1="528.00" x2="440.82" y2="533.30" stroke="#000" stroke-width="1.6"/>
<line x1="484.10" y1="393.80" x2="484.10" y2="416.50" stroke="#000" stroke-width="1.8"/>
<line x1="476.10" y1="393.80" x2="492.10" y2="393.80" stroke="#000" stroke-width="1.8"/>
<clipPath id="c7"><rect x="469.70" y="417.00" width="28.80" height="111.00"/></clipPath>
<g clip-path="url(#c7)"><rect x="469.70" y="417.00" width="28.80" height="111.00" fill="#fff"/><path d="M467.70 381.90L500.50 414.70L500.50 415.55L467.70 382.75ZM467.70 384.10L500.50 416.90L500.50 417.75L467.70 384.95ZM467.70 386.30L500.50 419.10L500.50 419.95L467.70 387.15ZM467.70 388.50L500.50 421.30L500.50 422.15L467.70 389.35ZM467.70 390.70L500.50 423.50L500.50 424.35L467.70 391.55ZM467.70 392.90L500.50 425.70L500.50 426.55L467.70 393.75ZM467.70 395.10L500.50 427.90L500.50 428.75L467.70 395.95ZM467.70 397.30L500.50 430.10L500.50 430.95L467.70 398.15ZM467.70 399.50L500.50 432.30L500.50 433.15L467.70 400.35ZM467.70 401.70L500.50 434.50L500.50 435.35L467.70 402.55ZM467.70 403.90L500.50 436.70L500.50 437.55L467.70 404.75ZM467.70 406.10L500.50 438.90L500.50 439.75L467.70 406.95ZM467.70 408.30L500.50 441.10L500.50 441.95L467.70 409.15ZM467.70 410.50L500.50 443.30L500.50 444.15L467.70 411.35ZM467.70 412.70L500.50 445.50L500.50 446.35L467.70 413.55ZM467.70 414.90L500.50 447.70L500.50 448.55L467.70 415.75ZM467.70 417.10L500.50 449.90L500.50 450.75L467.70 417.95ZM467.70 419.30L500.50 452.10L500.50 452.95L467.70 420.15ZM467.70 421.50L500.50 454.30L500.50 455.15L467.70 422.35ZM467.70 423.70L500.50 456.50L500.50 457.35L467.70 424.55ZM467.70 425.90L500.50 458.70L500.50 459.55L467.70 426.75ZM467.70 428.10L500.50 460.90L500.50 461.75L467.70 428.95ZM467.70 430.30L500.50 463.10L500.50 463.95L467.70 431.15ZM467.70 432.50L500.50 465.30L500.50 466.15L467.70 433.35ZM467.70 434.70L500.50 467.50L500.50 468.35L467.70 435.55ZM467.70 436.90L500.50 469.70L500.50 470.55L467.70 437.75ZM467.70 439.10L500.50 471.90L500.50 472.75L467.70 439.95ZM467.70 441.30L500.50 474.10L500.50 474.95L467.70 442.15ZM467.70 443.50L500.50 476.30L500.50 477.15L467.70 444.35ZM467.70 445.70L500.50 478.50L500.50 479.35L467.70 446.55ZM467.70 447.90L500.50 480.70L500.50 481.55L467.70 448.75ZM467.70 450.10L500.50 482.90L500.50 483.75L467.70 450.95ZM467.70 452.30L500.50 485.10L500.50 485.95L467.70 453.15ZM467.70 454.50L500.50 487.30L500.50 488.15L467.70 455.35ZM467.70 456.70L500.50 489.50L500.50 490.35L467.70 457.55ZM467.70 458.90L500.50 491.70L500.50 492.55L467.70 459.75ZM467.70 461.10L500.50 493.90L500.50 494.75L467.70 461.95ZM467.70 463.30L500.50 496.10L500.50 496.95L467.70 464.15ZM467.70 465.50L500.50 498.30L500.50 499.15L467.70 466.35ZM467.70 467.70L500.50 500.50L500.50 501.35L467.70 468.55ZM467.70 469.90L500.50 502.70L500.50 503.55L467.70 470.75ZM467.70 472.10L500.50 504.90L500.50 505.75L467.70 472.95ZM467.70 474.30L500.50 507.10L500.50 507.95L467.70 475.15ZM467.70 476.50L500.50 509.30L500.50 510.15L467.70 477.35ZM467.70 478.70L500.50 511.50L500.50 512.35L467.70 479.55ZM467.70 480.90L500.50 513.70L500.50 514.55L467.70 481.75ZM467.70 483.10L500.50 515.90L500.50 516.75L467.70 483.95ZM467.70 485.30L500.50 518.10L500.50 518.95L467.70 486.15ZM467.70 487.50L500.50 520.30L500.50 521.15L467.70 488.35ZM467.70 489.70L500.50 522.50L500.50 523.35L467.70 490.55ZM467.70 491.90L500.50 524.70L500.50 525.55L467.70 492.75ZM467.70 494.10L500.50 526.90L500.50 527.75L467.70 494.95ZM467.70 496.30L500.50 529.10L500.50 529.95L467.70 497.15ZM467.70 498.50L500.50 531.30L500.50 532.15L467.70 499.35ZM467.70 500.70L500.50 533.50L500.50 534.35L467.70 501.55ZM467.70 502.90L500.50 535.70L500.50 536.55L467.70 503.75ZM467.70 505.10L500.50 537.90L500.50 538.75L467.70 505.95ZM467.70 507.30L500.50 540.10L500.50 540.95L467.70 508.15ZM467.70 509.50L500.50 542.30L500.50 543.15L467.70 510.35ZM467.70 511.70L500.50 544.50L500.50 545.35L467.70 512.55ZM467.70 513.90L500.50 546.70L500.50 547.55L467.70 514.75ZM467.70 516.10L500.50 548.90L500.50 549.75L467.70 516.95ZM467.70 518.30L500.50 551.10L500.50 551.95L467.70 519.15ZM467.70 520.50L500.50 553.30L500.50 554.15L467.70 521.35ZM467.70 522.70L500.50 555.50L500.50 556.35L467.70 523.55ZM467.70 524.90L500.50 557.70L500.50 558.55L467.70 525.75ZM467.70 527.10L500.50 559.90L500.50 560.75L467.70 527.95ZM467.70 529.30L500.50 562.10L500.50 562.95L467.70 530.15Z" fill="#000"/></g>
<rect x="469.70" y="417.00" width="28.80" height="111.00" fill="none" stroke="#000" stroke-width="2.0"/>
<line x1="484.10" y1="528.00" x2="484.10" y2="533.30" stroke="#000" stroke-width="1.6"/>
<text x="0" y="0" transform="translate(471.67,393.76) scale(1.000,1)" font-size="18.71" font-family='"Liberation Sans", Arial, sans-serif' font-weight="normal" font-style="normal" letter-spacing="1.52" stroke="#000" stroke-width="0.3">***</text>
<text transform="translate(250.13,569.40) rotate(-45)" font-size="13.76" font-family='"Liberation Sans", Arial, sans-serif' font-weight="bold">Con</text>
<text transform="translate(299.32,565.51) rotate(-45)" font-size="13.76" font-family='"Liberation Sans", Arial, sans-serif' font-weight="bold">PG</text>
<text transform="translate(343.18,565.32) rotate(-45)" font-size="13.76" font-family='"Liberation Sans", Arial, sans-serif' font-weight="bold">PC</text>
<text transform="translate(366.78,584.97) rotate(-45)" font-size="13.76" font-family='"Liberation Sans", Arial, sans-serif' font-weight="bold">HSPB4</text>
<text transform="translate(385.63,609.04) rotate(-45)" font-size="13.76" font-family='"Liberation Sans", Arial, sans-serif' font-weight="bold">HSPB4 + PG</text>
<text transform="translate(429.50,608.84) rotate(-45)" font-size="13.76" font-family='"Liberation Sans", Arial, sans-serif' font-weight="bold">HSPB4 + PC</text>
<line x1="398.30" y1="361.80" x2="437.80" y2="361.80" stroke="#000" stroke-width="1.8"/>
<line x1="437.00" y1="361.80" x2="437.00" y2="480.10" stroke="#000" stroke-width="1.6"/>
<line x1="444.90" y1="361.80" x2="483.10" y2="361.80" stroke="#000" stroke-width="1.8"/>
<line x1="445.70" y1="361.80" x2="445.70" y2="480.10" stroke="#000" stroke-width="1.6"/>
<text x="0" y="0" transform="translate(412.48,354.69) scale(1.000,1)" font-size="15.65" font-family='"DejaVu Serif", serif' font-weight="normal" font-style="italic" letter-spacing="2.04">fff</text>
<text x="0" y="0" transform="translate(450.61,354.12) scale(1.000,1)" font-size="15.31" font-family='"Liberation Serif", "Times New Roman", serif' font-weight="normal" font-style="normal" letter-spacing="2.40" stroke="#000" stroke-width="0.3">ξξξ</text>
</svg></body></html>
